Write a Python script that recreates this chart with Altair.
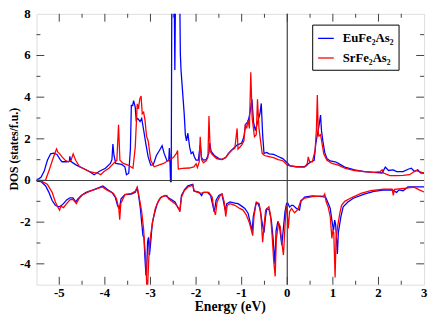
import altair as alt
import pandas as pd

EU = "EuFe₂As₂"
SR = "SrFe₂As₂"

# ---- EuFe2As2, spin up ----
eu_up_x = [-5.50, -5.45, -5.40, -5.33, -5.26, -5.19, -5.12, -5.05, -4.98, -4.94, -4.84, -4.78, -4.767, -4.75,
           -4.625, -4.48, -4.34, -4.235, -4.128, -3.987, -3.88, -3.845, -3.824, -3.80, -3.76, -3.632, -3.561,
           -3.526, -3.476, -3.44, -3.419, -3.39, -3.37, -3.334, -3.313, -3.278, -3.228, -3.192, -3.157, -3.10,
           -3.05, -2.994, -2.94, -2.87, -2.80, -2.745, -2.70, -2.64, -2.60, -2.585, -2.572, -2.56, -2.545,
           -2.53, -2.49, -2.465, -2.44, -2.38, -2.345, -2.33, -2.31, -2.28, -2.26, -2.235, -2.21, -2.18, -2.14,
           -2.107, -2.07, -2.036, -2.00, -1.95, -1.91, -1.88, -1.84, -1.78, -1.72, -1.70, -1.67, -1.60, -1.50,
           -1.43, -1.35, -1.29, -1.20, -1.10, -1.00, -0.95, -0.915, -0.87, -0.84, -0.80, -0.775, -0.74, -0.70,
           -0.65, -0.60, -0.57, -0.54, -0.51, -0.45, -0.40, -0.30, -0.20, -0.10, 0.00, 0.06, 0.20, 0.35, 0.41,
           0.47, 0.52, 0.59, 0.624, 0.659, 0.694, 0.73, 0.75, 0.78, 0.82, 0.87, 0.94, 1.05, 1.12, 1.26, 1.475,
           1.69, 1.90, 2.08, 2.15, 2.22, 2.32, 2.40, 2.54, 2.65, 2.72, 2.79, 2.86, 2.93, 3.00]
eu_up_y = [0.05, 0.08, 0.15, 0.45, 0.97, 1.28, 1.31, 1.25, 1.00, 0.90, 0.90, 0.92, 1.16, 0.92,
           0.74, 0.59, 0.43, 0.28, 0.43, 0.59, 0.82, 1.00, 1.75, 1.20, 0.82, 0.77, 0.66,
           0.28, 0.35, 1.50, 3.60, 3.60, 3.83, 3.52, 2.90, 2.98, 2.83, 2.98, 2.52, 1.75,
           1.13, 0.74, 0.75, 1.20, 1.45, 1.67, 1.30, 0.96, 0.95, 1.56, 0.90, -0.05, -0.05,
           10.0, 12.0, 5.3, 12.0, 14.0, 6.1, 5.3, 4.7, 3.8, 3.2, 2.2, 1.9, 2.27, 1.59,
           1.29, 1.37, 1.13, 0.98, 0.98, 1.70, 1.10, 0.98, 1.00, 1.30, 1.80, 1.40, 1.20, 1.05,
           1.00, 1.10, 1.30, 1.50, 1.70, 1.80, 2.10, 2.70, 2.80, 3.00, 3.50, 3.90, 2.80, 2.40,
           2.80, 3.20, 3.70, 2.20, 1.30, 1.35, 1.28, 1.25, 1.15, 1.05, 0.85, 0.70, 0.66, 0.66, 0.69,
           0.82, 0.90, 0.97, 1.74, 2.20, 2.60, 3.14, 2.40, 1.90, 1.36, 1.05, 0.94, 0.90, 0.82, 0.64, 0.51,
           0.43, 0.39, 0.36, 0.64, 0.48, 0.51, 0.43, 0.43, 0.54, 0.59, 0.43, 0.51, 0.36, 0.36]

# ---- SrFe2As2, spin up ----
sr_up_x = [-5.50, -5.40, -5.30, -5.22, -5.15, -5.10, -5.06, -5.03, -4.99, -4.94, -4.87, -4.80, -4.74, -4.695,
           -4.64, -4.554, -4.45, -4.341, -4.235, -4.163, -4.09, -4.02, -3.91, -3.81, -3.737, -3.70, -3.67,
           -3.597, -3.49, -3.384, -3.334, -3.29, -3.263, -3.235, -3.206, -3.18, -3.15, -3.12, -3.086, -3.05,
           -2.994, -2.92, -2.82, -2.71, -2.62, -2.50, -2.43, -2.405, -2.39, -2.30, -2.15, -2.05, -2.00, -1.97,
           -1.93, -1.909, -1.88, -1.84, -1.78, -1.74, -1.717, -1.69, -1.65, -1.55, -1.45, -1.35, -1.28, -1.22,
           -1.15, -1.10, -1.08, -1.00, -0.95, -0.92, -0.89, -0.86, -0.83, -0.80, -0.77, -0.72, -0.68, -0.653,
           -0.62, -0.58, -0.55, -0.50, -0.40, -0.30, -0.20, -0.10, -0.05, 0.00, 0.20, 0.38, 0.44, 0.46, 0.49,
           0.55, 0.61, 0.64, 0.659, 0.68, 0.694, 0.73, 0.765, 0.80, 0.87, 0.98, 1.12, 1.26, 1.475, 1.69, 1.90,
           2.04, 2.08, 2.11, 2.25, 2.40, 2.54, 2.68, 2.82, 2.89, 3.00]
sr_up_y = [0.02, 0.00, 0.02, 0.50, 0.97, 1.28, 1.51, 1.36, 1.28, 1.13, 0.97, 0.90, 0.97, 1.28,
           0.97, 0.66, 0.55, 0.43, 0.38, 0.36, 0.28, 0.43, 0.59, 0.82, 0.97, 2.67, 0.97,
           0.82, 0.74, 0.59, 1.59, 3.68, 3.44, 3.90, 4.06, 3.20, 3.28, 2.90, 2.13, 1.90,
           0.97, 0.66, 0.74, 0.82, 0.95, 1.10, 1.30, 1.44, 0.55, 0.58, 0.60, 0.65, 0.80, 0.62,
           0.90, 2.10, 1.00, 0.85, 0.95, 1.10, 3.10, 1.40, 1.25, 1.05, 1.00, 1.10, 1.30, 1.45,
           1.55, 2.50, 1.50, 1.70, 1.90, 2.70, 2.50, 2.90, 2.50, 5.20, 3.00, 2.10, 2.20, 3.90,
           2.50, 1.80, 1.30, 1.20, 1.15, 1.10, 1.00, 0.95, 0.85, 0.74, 0.66, 0.64, 0.82, 1.13, 0.90,
           0.90, 1.44, 2.50, 4.10, 2.30, 2.13, 2.20, 1.74, 1.28, 0.97, 0.82, 0.74, 0.59, 0.48, 0.43, 0.39,
           0.43, 0.51, 0.36, 0.23, 0.23, 0.25, 0.28, 0.48, 0.43, 0.36]

# ---- EuFe2As2, spin down ----
eu_dn_x = [-5.50, -5.40, -5.298, -5.227, -5.156, -5.085, -5.014, -4.97, -4.908, -4.838, -4.767, -4.70, -4.639,
           -4.59, -4.518, -4.412, -4.27, -4.128, -4.043, -3.95, -3.845, -3.774, -3.717, -3.68, -3.645, -3.561,
           -3.419, -3.334, -3.29, -3.26, -3.221, -3.192, -3.164, -3.143, -3.121, -3.10, -3.086, -3.064, -3.043,
           -3.022, -2.994, -2.96, -2.91, -2.852, -2.781, -2.675, -2.604, -2.461, -2.39, -2.355, -2.32, -2.249,
           -2.178, -2.072, -2.05, -2.00, -1.93, -1.88, -1.84, -1.752, -1.681, -1.625, -1.60, -1.56, -1.50,
           -1.433, -1.397, -1.362, -1.326, -1.255, -1.15, -1.08, -1.00, -0.93, -0.86, -0.81, -0.77, -0.745,
           -0.687, -0.64, -0.60, -0.545, -0.51, -0.48, -0.45, -0.40, -0.35, -0.31, -0.27, -0.245, -0.205,
           -0.17, -0.12, -0.085, -0.05, -0.015, 0.01, 0.05, 0.094, 0.127, 0.20, 0.269, 0.30, 0.38, 0.55,
           0.765, 0.84, 0.90, 0.942, 0.978, 1.014, 1.04, 1.06, 1.099, 1.12, 1.176, 1.226, 1.33, 1.45, 1.688,
           1.90, 2.113, 2.30, 2.397, 2.45, 2.539, 2.646, 2.80, 3.00]
eu_dn_y = [-0.03, -0.05, -0.26, -0.57, -0.96, -1.19, -1.26, -1.23, -1.11, -0.93, -0.83, -0.83, -1.03,
           -0.88, -0.72, -0.57, -0.46, -0.34, -0.26, -0.42, -0.57, -0.80, -1.23, -1.34, -0.88, -0.68,
           -0.65, -0.57, -0.37, -0.72, -1.34, -2.04, -2.65, -2.72, -3.73, -4.50, -4.60, -2.96, -2.73,
           -3.58, -2.96, -2.04, -1.57, -1.11, -0.83, -0.72, -0.83, -1.03, -1.34, -1.42, -0.72, -0.42,
           -0.26, -0.18, -0.50, -0.52, -0.57, -0.72, -0.57, -0.57, -0.72, -1.26, -1.50, -0.95, -0.72,
           -0.65, -1.03, -1.42, -1.11, -1.03, -1.08, -1.11, -1.23, -1.34, -1.57, -2.04, -2.42, -1.73,
           -1.11, -1.10, -1.35, -2.10, -2.50, -1.80, -1.35, -1.40, -1.90, -2.80, -4.00, -2.40, -1.96,
           -2.20, -3.10, -2.30, -1.50, -1.10, -1.08, -1.27, -1.19, -1.19, -1.34, -1.42, -1.00, -0.80, -0.74,
           -0.77, -0.80, -1.10, -1.34, -1.90, -2.40, -1.90, -2.10, -3.53, -2.50, -1.73, -1.26, -1.03, -0.85, -0.65,
           -0.52, -0.46, -0.45, -0.57, -0.45, -0.49, -0.31, -0.31, -0.31]

# ---- SrFe2As2, spin down ----
sr_dn_x = [-5.50, -5.40, -5.263, -5.156, -5.085, -5.036, -4.993, -4.965, -4.908, -4.838, -4.767, -4.70, -4.625,
           -4.57, -4.483, -4.341, -4.20, -4.057, -3.95, -3.81, -3.745, -3.695, -3.674, -3.65, -3.561, -3.419,
           -3.334, -3.29, -3.26, -3.235, -3.192, -3.15, -3.128, -3.10, -3.079, -3.065, -3.036, -3.015, -2.987,
           -2.944, -2.894, -2.823, -2.753, -2.64, -2.604, -2.461, -2.39, -2.355, -2.32, -2.26, -2.178, -2.072,
           -2.036, -1.965, -1.894, -1.823, -1.72, -1.645, -1.61, -1.574, -1.539, -1.47, -1.43, -1.383, -1.35,
           -1.316, -1.255, -1.15, -1.042, -0.971, -0.90, -0.829, -0.758, -0.73, -0.68, -0.616, -0.58, -0.54,
           -0.51, -0.474, -0.403, -0.368, -0.332, -0.297, -0.265, -0.24, -0.19, -0.155, -0.12, -0.084, -0.06,
           -0.035, -0.013, 0.023, 0.05, 0.094, 0.16, 0.23, 0.30, 0.38, 0.553, 0.80, 0.822, 0.85, 0.90, 0.942,
           0.978, 1.00, 1.02, 1.049, 1.07, 1.106, 1.15, 1.19, 1.26, 1.404, 1.617, 1.83, 2.113, 2.30, 2.325,
           2.35, 2.45, 2.61, 2.78, 2.894, 3.00]
sr_dn_y = [0.00, -0.02, -0.18, -0.57, -1.03, -1.26, -1.42, -1.23, -1.30, -1.11, -0.93, -0.90, -1.11,
           -0.88, -0.68, -0.52, -0.42, -0.31, -0.46, -0.62, -0.88, -1.34, -1.88, -1.10, -0.68, -0.62,
           -0.52, -0.31, -0.65, -0.96, -1.50, -2.34, -3.12, -3.89, -5.20, -5.20, -3.73, -2.96, -2.50,
           -1.88, -1.34, -0.96, -0.77, -0.72, -0.88, -1.11, -1.30, -1.50, -0.80, -0.49, -0.31, -0.22,
           -0.52, -0.57, -0.62, -0.57, -0.57, -0.80, -1.42, -1.65, -1.03, -0.72, -0.65, -1.03, -1.73,
           -1.19, -1.11, -1.19, -1.34, -1.42, -1.65, -2.04, -2.65, -1.73, -1.03, -1.11, -1.57, -2.96,
           -2.20, -1.42, -1.26, -1.65, -2.65, -3.88, -4.60, -2.80, -2.04, -2.20, -2.96, -3.58, -2.60,
           -1.57, -1.20, -2.30, -1.50, -1.34, -1.55, -1.40, -0.96, -0.85, -0.77, -0.74, -0.65, -1.00, -1.30, -1.73,
           -2.78, -2.40, -2.50, -4.66, -2.80, -2.19, -1.60, -1.19, -1.00, -0.83, -0.62, -0.49, -0.42, -0.42, -0.72,
           -0.42, -0.40, -0.37, -0.32, -0.45, -0.55]

x_label_values = [-5, -4, -3, -2, -1, 0, 1, 2, 3]
x_major_ticks = [-5, -4, -3, -2, -1, 0, 1, 2]
x_minor_ticks = [-4.5, -3.5, -2.5, -1.5, -0.5, 0.5, 1.5, 2.5]
y_label_values = [-4, -2, 0, 2, 4, 6, 8]
y_major_ticks = [-4, -2, 0, 2, 4, 6]
y_minor_ticks = [-3, -1, 1, 3, 5, 7]
x_title = "Energy (eV)"
y_title = "DOS (states/f.u.)"


def part(xs, ys, name, spin):
    return pd.DataFrame({"energy": xs, "dos": ys, "compound": name, "spin": spin})


df = pd.concat([
    part(eu_up_x, eu_up_y, EU, "up"),
    part(eu_dn_x, eu_dn_y, EU, "down"),
    part(sr_up_x, sr_up_y, SR, "up"),
    part(sr_dn_x, sr_dn_y, SR, "down"),
], ignore_index=True)
zero_df = pd.DataFrame({"energy": [0.0], "dos": [0.0]})

W, H = 395, 276
FONT = "Liberation Serif"
FRAME = "#404040"
MAJOR, MINOR = 8, 4

x_scale = alt.Scale(domain=[-5.5, 3], nice=False, zero=False)
y_scale = alt.Scale(domain=[-5, 8], nice=False, zero=False)


def x_ticks(values, edge_px, length):
    # inward tick marks along the top (edge 0) or bottom (edge H) frame
    inner = edge_px + length if edge_px == 0 else edge_px - length
    return alt.Chart(pd.DataFrame({"energy": values})).mark_rule(color=FRAME, strokeWidth=1).encode(
        x=alt.X("energy:Q", scale=x_scale, axis=None),
        y=alt.value(edge_px), y2=alt.value(inner),
    )


def y_ticks(values, edge_px, length):
    inner = edge_px + length if edge_px == 0 else edge_px - length
    return alt.Chart(pd.DataFrame({"dos": values})).mark_rule(color=FRAME, strokeWidth=1).encode(
        y=alt.Y("dos:Q", scale=y_scale, axis=None),
        x=alt.value(edge_px), x2=alt.value(inner),
    )


# tick labels and axis titles drawn as text marks (positions of labels come from the scales)
x_lab = alt.Chart(pd.DataFrame({"energy": x_label_values,
                                "txt": [str(v) for v in x_label_values]})).mark_text(
    font=FONT, fontWeight="bold", fontSize=13, color="black", baseline="top", align="center"
).encode(x=alt.X("energy:Q", scale=x_scale, axis=None), y=alt.value(H + 3), text="txt:N")

y_lab = alt.Chart(pd.DataFrame({"dos": y_label_values,
                                "txt": [str(v) for v in y_label_values]})).mark_text(
    font=FONT, fontWeight="bold", fontSize=13, color="black", baseline="middle", align="right"
).encode(y=alt.Y("dos:Q", scale=y_scale, axis=None), x=alt.value(-6), text="txt:N")

x_tit = alt.Chart(pd.DataFrame({"txt": [x_title]})).mark_text(
    font=FONT, fontWeight="bold", fontSize=14, color="black", baseline="top", align="center"
).encode(x=alt.value(W / 2), y=alt.value(H + 16), text="txt:N")

y_tit = alt.Chart(pd.DataFrame({"txt": [y_title]})).mark_text(
    font=FONT, fontWeight="bold", fontSize=12, color="black", baseline="middle", align="center",
    angle=270
).encode(x=alt.value(-23), y=alt.value(H / 2), text="txt:N")

vline = alt.Chart(zero_df).mark_rule(color=FRAME, strokeWidth=1.2).encode(
    x=alt.X("energy:Q", scale=x_scale, axis=None))
hline = alt.Chart(zero_df).mark_rule(color=FRAME, strokeWidth=1.2).encode(
    y=alt.Y("dos:Q", scale=y_scale, axis=None))

lines = alt.Chart(df).mark_line(clip=True, strokeWidth=1.3).encode(
    x=alt.X("energy:Q", scale=x_scale, axis=None),
    y=alt.Y("dos:Q", scale=y_scale, axis=None),
    color=alt.Color("compound:N",
                    scale=alt.Scale(domain=[EU, SR], range=["#0000ff", "#ff0000"]),
                    legend=alt.Legend(title=None, orient="none", legendX=281, legendY=11,
                                      direction="vertical", strokeColor="black", fillColor="white",
                                      padding=5, symbolType="stroke", symbolSize=256,
                                      symbolStrokeWidth=1.3, labelFont=FONT, labelFontWeight="bold",
                                      labelFontSize=13, labelColor="black", labelOffset=8,
                                      rowPadding=4)),
    detail="spin:N",
)

chart = alt.layer(
    lines,
    x_ticks(x_major_ticks, H, MAJOR),
    x_ticks(x_minor_ticks, H, MINOR),
    x_ticks(x_major_ticks, 0, MAJOR),
    x_ticks(x_minor_ticks, 0, MINOR),
    y_ticks(y_major_ticks, 0, MAJOR),
    y_ticks(y_minor_ticks, 0, MINOR),
    y_ticks(y_major_ticks, W, MAJOR),
    y_ticks(y_minor_ticks, W, MINOR),
    vline,
    hline,
    x_lab,
    y_lab,
    x_tit,
    y_tit,
).properties(
    width=W, height=H,
    autosize=alt.AutoSizeParams(type="none"),
    padding={"left": 29, "top": 3, "right": 4, "bottom": 30},
).configure_view(stroke=FRAME, strokeWidth=1.2).configure(font=FONT)

chart.save("out.html", embed_options={"renderer": "svg", "actions": False})
